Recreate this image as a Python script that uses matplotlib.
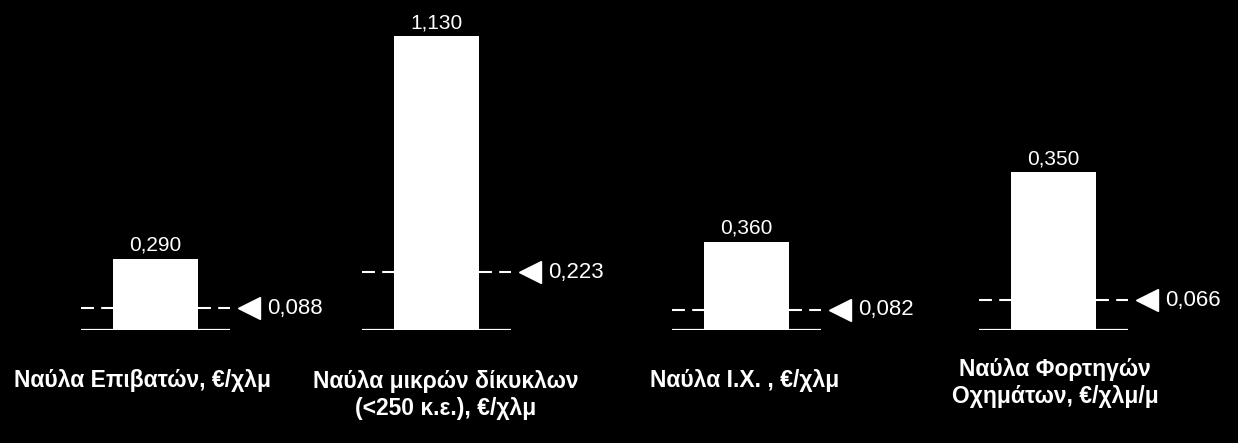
import matplotlib.pyplot as plt

# data
categories = [
    "Ναύλα Επιβατών, €/χλμ",
    "Ναύλα μικρών δίκυκλων\n(<250 κ.ε.), €/χλμ",
    "Ναύλα Ι.Χ. , €/χλμ",
    "Ναύλα Φορτηγών\nΟχημάτων, €/χλμ/μ",
]
fares = [0.290, 1.130, 0.360, 0.350]
reference = [0.088, 0.223, 0.082, 0.066]

# layout (pixels on a 1238x443 canvas)
W, H = 1238, 443
panel_left = [81, 362, 672, 979]
panel_width = 149
baseline_y = 330
y_top = [1.347, 1.27, 1.352, 0.733]
label_xy = [(143, 381), (446, 395), (745, 381), (1055, 383)]
bar_w = 0.564


def fmt(v):
    return f"{v:.3f}".replace(".", ",")


plt.rcParams["font.family"] = ["Liberation Sans", "DejaVu Sans"]

fig = plt.figure(figsize=(W / 100, H / 100), dpi=100, facecolor="black")

side = (1 - bar_w) / 2
for i in range(len(fares)):
    ax = fig.add_axes([panel_left[i] / W, (H - baseline_y) / H,
                       panel_width / W, baseline_y / H])
    ax.set_facecolor("black")
    ax.set_xlim(-0.5, 0.5)
    ax.set_ylim(0, y_top[i])
    ax.axis("off")

    ax.axhline(0, color="white", lw=1.6, zorder=1)
    # dashed reference line, drawn on both sides of the bar
    for lo, hi in [(0, side), (1 - side, 1)]:
        ax.axhline(reference[i], lo, hi, color="white", lw=1.5,
                   dashes=(6.2, 3.5), zorder=1)
    ax.bar(0, fares[i], width=bar_w, color="white", zorder=2)

    ax.annotate(fmt(fares[i]), (0, fares[i]), xytext=(0, 3),
                textcoords="offset points", ha="center", va="bottom",
                color="white", fontsize=15)
    ax.plot(0.5 + 0.128, reference[i], marker="<", ms=15.5, color="white",
            clip_on=False, zorder=3)
    ax.annotate(fmt(reference[i]), (0.5, reference[i]), xytext=(27, 0),
                textcoords="offset points", ha="left", va="center",
                color="white", fontsize=16)

    fig.text(label_xy[i][0] / W, 1 - label_xy[i][1] / H, categories[i],
             ha="center", va="center", color="white", fontsize=16.5,
             fontweight="bold", linespacing=1.2)

fig.savefig("out.png", dpi=100, facecolor="black")
